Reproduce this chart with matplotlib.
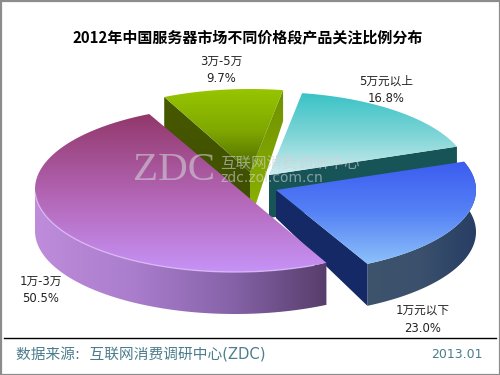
#!/usr/bin/env python3
"""2012年中国服务器市场不同价格段产品关注比例分布 - 手绘3D饼图"""

import numpy as np
import matplotlib
matplotlib.use('Agg')
import matplotlib.pyplot as plt
from matplotlib.patches import Polygon, Rectangle

CJK = ['Noto Sans CJK SC', 'DejaVu Sans']
plt.rcParams['font.family'] = ['DejaVu Sans', 'Noto Sans CJK SC']

# 数据
title = '2012年中国服务器市场不同价格段产品关注比例分布'
labels = ['1万-3万', '1万元以下', '5万元以上', '3万-5万']
shares = [50.5, 23.0, 16.8, 9.7]
source = '数据来源:  互联网消费调研中心(ZDC)'
date_label = '2013.01'

# 椭圆投影参数（像素坐标）
RX, RY = 200, 83
START = 115.4
centers = [(235, 189), (276, 190), (269, 175), (250, 172)]
depths = [42, 42, 43, 31]
label_pos = [(41, 290), (423, 319), (386, 90), (221, 70)]


def arc(center, t0, t1, dy=0, n=80):
    t = np.radians(np.linspace(t0, t1, n))
    return np.column_stack([center[0] + RX * np.cos(t), center[1] - RY * np.sin(t) + dy])


def grad_fill(ax, pts, stops, horizontal=False, z=2):
    """用渐变填充多边形"""
    pts = np.asarray(pts)
    stops = np.array(stops) / 255
    pos = np.linspace(0, 1, 64)
    rows = np.column_stack([np.interp(pos, np.linspace(0, 1, len(stops)), stops[:, i]) for i in range(3)])
    img = rows[np.newaxis, :, :] if horizontal else rows[:, np.newaxis, :]
    x0, y0 = pts.min(axis=0)
    x1, y1 = pts.max(axis=0)
    im = ax.imshow(img, extent=[x0, x1, y1, y0], aspect='auto', zorder=z, interpolation='bilinear')
    patch = Polygon(pts, closed=True, transform=ax.transData, fc='none', ec='none')
    ax.add_patch(patch)
    im.set_clip_path(patch)
    return im


fig = plt.figure(figsize=(5, 3.75), dpi=100)
ax = fig.add_axes([0, 0, 1, 1])

# 各扇区起止角度
sweep = np.array(shares) / sum(shares) * 360
ends = START + np.cumsum(sweep)
starts = ends - sweep

# 3万-5万（最后面）
c, d = centers[3], depths[3]
s, e = starts[3], ends[3]
p_r = arc(c, s, s, n=1)[0]
p_l = arc(c, e, e, n=1)[0]
apex_low = (c[0], c[1] + 50)
grad_fill(ax, [p_l, c, apex_low, (p_l[0], p_l[1] + d)], [(72, 88, 0), (60, 78, 0)], z=2)
grad_fill(ax, [p_r, c, apex_low, (p_r[0], p_r[1] + d)], [(112, 145, 0), (140, 180, 0)], z=2)
grad_fill(ax, np.vstack([[c], arc(c, s, e)]), [(150, 197, 0), (128, 168, 0), (72, 100, 0)], z=3)

# 5万元以上
c, d = centers[2], depths[2]
s, e = starts[2], ends[2]
p_r = arc(c, s, s, n=1)[0]
ax.add_patch(Polygon([c, p_r, (p_r[0], p_r[1] + d), (c[0], c[1] + d)], fc=(0.09, 0.33, 0.34), ec='none', zorder=4))
grad_fill(ax, np.vstack([[c], arc(c, s, e)]), [(58, 195, 198), (125, 212, 214), (205, 236, 238)], z=5)

# 1万元以下
c, d = centers[1], depths[1]
s, e = starts[1], ends[1]
p_l = arc(c, s, s, n=1)[0]
wall = np.vstack([arc(c, s, e), arc(c, e, s, dy=d)])
grad_fill(ax, wall, [(62, 84, 108), (58, 80, 108), (40, 62, 100)], horizontal=True, z=6)
ax.add_patch(Polygon([c, p_l, (p_l[0], p_l[1] + d), (c[0], c[1] + 28)], fc=(0.08, 0.16, 0.4), ec='none', zorder=7))
grad_fill(ax, np.vstack([[c], arc(c, s, e)]), [(60, 92, 240), (85, 130, 245), (140, 192, 250)], z=8)

# 1万-3万
c, d = centers[0], depths[0]
s, e = starts[0], ends[0]
wall = np.vstack([arc(c, 180, e), arc(c, e, 180, dy=d)])
grad_fill(ax, wall, [(190, 140, 218), (170, 125, 205), (135, 100, 170), (88, 62, 108)], horizontal=True, z=9)
grad_fill(ax, arc(c, s, e), [(146, 56, 108), (178, 100, 178), (198, 146, 246)], z=10)
rim = arc(c, 183, e - 4)
ax.plot(rim[:, 0], rim[:, 1], color=(0.88, 0.74, 0.96), lw=1.0, alpha=0.8, zorder=11)

# 水印
wm = (0.82, 0.82, 0.84)
ax.text(133, 171, 'ZDC', family='Liberation Serif', fontsize=29.5, color=wm, alpha=0.6, ha='left', va='center', zorder=12)
ax.text(220, 163, '互联网消费调研中心', family=CJK, fontsize=11.2, color=wm, alpha=0.6, ha='left', va='center', zorder=12)
ax.text(220, 178, 'zdc.zol.com.cn', family='DejaVu Sans', fontsize=10, color=wm, alpha=0.6, ha='left', va='center', zorder=12)

# 文字
ax.text(248, 37, title, family=CJK, fontsize=10.8, fontweight='bold', color='black', ha='center', va='center', zorder=13)
for name, val, (x, y) in zip(labels, shares, label_pos):
    ax.text(x, y, f'{name}\n{val:.1f}%', fontsize=8.4, color='#222222', ha='center', va='center', linespacing=1.5, zorder=13)

ax.plot([4, 496], [338, 338], color='black', lw=1, zorder=13)
ax.text(16, 355, source, fontsize=10.6, color='#4b7d8c', ha='left', va='center', zorder=13)
ax.text(483, 354, date_label, fontsize=9, color='#4b7d8c', ha='right', va='center', zorder=13)

# 外框
ax.add_patch(Rectangle((0.5, 0.5), 499, 374, fc='none', ec='#8c8c8c', lw=1.6, zorder=14))

ax.set_xlim(0, 500)
ax.set_ylim(375, 0)
ax.axis('off')
fig.savefig('out.png', dpi=100)
